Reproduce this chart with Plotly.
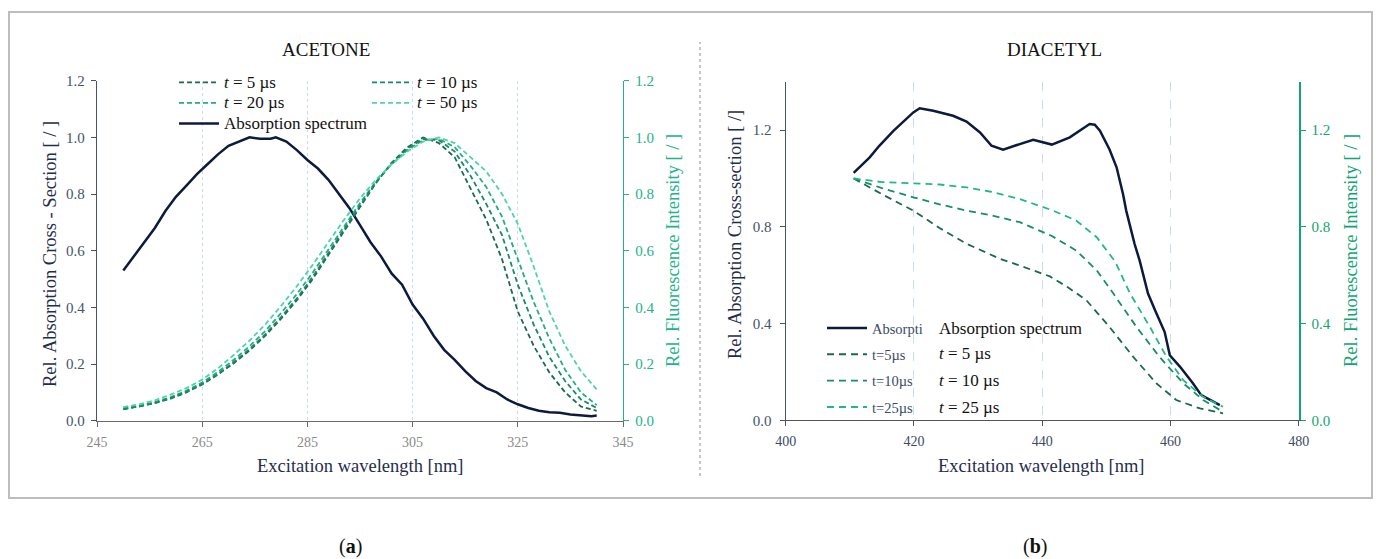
import plotly.graph_objects as go

# ---------------- DATA ----------------
# Panel (a) ACETONE
acetone_abs_nm = [250, 252, 254, 256, 258, 260, 262, 264, 266, 268, 270, 272, 274, 276, 278, 279,
                  281, 283, 285, 287, 289, 291, 293, 295, 297, 299, 301, 303, 305, 307, 309, 311,
                  313, 315, 317, 319, 321, 323, 325, 327, 329, 331, 333, 335, 337, 339, 340]
acetone_abs = [0.53, 0.58, 0.63, 0.68, 0.74, 0.79, 0.83, 0.87, 0.905, 0.94, 0.97, 0.985, 1.0, 0.995,
               0.995, 1.0, 0.985, 0.955, 0.92, 0.89, 0.85, 0.80, 0.75, 0.69, 0.63, 0.58, 0.52, 0.48,
               0.41, 0.36, 0.30, 0.25, 0.215, 0.175, 0.14, 0.115, 0.10, 0.075, 0.058, 0.045, 0.035,
               0.03, 0.028, 0.022, 0.018, 0.016, 0.018]

acetone_fl_nm = [250, 253, 256, 259, 262, 265, 268, 271, 274, 277, 280, 283, 286, 289, 292, 295,
                 298, 301, 304, 307, 310, 313, 316, 319, 322, 325, 328, 331, 334, 337, 340]
acetone_t5 = [0.040, 0.050, 0.062, 0.078, 0.100, 0.128, 0.163, 0.203, 0.248, 0.300, 0.360, 0.425,
              0.500, 0.585, 0.670, 0.755, 0.838, 0.910, 0.965, 1.000, 0.980, 0.930, 0.820, 0.710,
              0.570, 0.385, 0.265, 0.170, 0.100, 0.050, 0.035]
acetone_t10 = [0.042, 0.050, 0.063, 0.080, 0.102, 0.130, 0.165, 0.207, 0.253, 0.305, 0.366, 0.432,
               0.508, 0.592, 0.677, 0.760, 0.840, 0.908, 0.960, 0.995, 0.990, 0.950, 0.865, 0.765,
               0.655, 0.480, 0.340, 0.225, 0.140, 0.075, 0.045]
acetone_t20 = [0.045, 0.052, 0.066, 0.083, 0.106, 0.135, 0.172, 0.215, 0.263, 0.317, 0.380, 0.447,
               0.522, 0.605, 0.688, 0.768, 0.843, 0.905, 0.955, 0.990, 0.995, 0.965, 0.900, 0.825,
               0.720, 0.570, 0.420, 0.290, 0.180, 0.100, 0.055]
acetone_t50 = [0.048, 0.058, 0.072, 0.092, 0.115, 0.145, 0.185, 0.232, 0.283, 0.340, 0.405, 0.475,
               0.550, 0.630, 0.710, 0.785, 0.850, 0.905, 0.950, 0.985, 1.000, 0.980, 0.930, 0.880,
               0.800, 0.695, 0.545, 0.385, 0.265, 0.175, 0.110]

# Panel (b) DIACETYL
diacetyl_abs_nm = [410.6, 413.1, 414.6, 416.8, 419.9, 420.9, 423.0, 426.1, 428.2, 430.3, 432.1,
                   433.9, 436.5, 438.6, 441.5, 444.3, 447.4, 448.2, 449.0, 450.5, 451.6, 452.6,
                   453.1, 454.4, 455.2, 456.5, 457.6, 459.1, 459.9, 461.5, 463.5, 464.8, 467.7]
diacetyl_abs = [1.023, 1.087, 1.135, 1.197, 1.273, 1.29, 1.28, 1.259, 1.235, 1.19, 1.135, 1.119,
                1.142, 1.16, 1.14, 1.17, 1.225, 1.222, 1.197, 1.12, 1.046, 0.936, 0.867, 0.73,
                0.66, 0.524, 0.455, 0.365, 0.269, 0.221, 0.153, 0.104, 0.063]

diacetyl_t5_nm = [410.6, 415.0, 419.9, 424.0, 428.2, 433.4, 437.0, 441.2, 444.0, 446.9, 450.5,
                  454.2, 457.8, 460.9, 464.6, 468.2]
diacetyl_t5 = [1.0, 0.935, 0.867, 0.795, 0.73, 0.668, 0.635, 0.595, 0.55, 0.496, 0.386, 0.262,
               0.153, 0.084, 0.049, 0.029]
diacetyl_t10_nm = [410.6, 415.0, 419.9, 424.0, 428.2, 432.0, 436.5, 441.5, 445.3, 448.5, 451.1,
                   454.7, 458.3, 462.0, 465.1, 468.2]
diacetyl_t10 = [1.0, 0.96, 0.922, 0.893, 0.867, 0.848, 0.819, 0.762, 0.702, 0.62, 0.524, 0.386,
                0.262, 0.153, 0.084, 0.035]
diacetyl_t25_nm = [410.6, 415.0, 419.9, 424.0, 428.2, 432.0, 436.5, 441.7, 445.3, 448.5, 451.4,
                   453.7, 456.8, 459.4, 462.0, 465.1, 468.2]
diacetyl_t25 = [1.0, 0.985, 0.98, 0.975, 0.963, 0.945, 0.915, 0.867, 0.826, 0.757, 0.655, 0.524,
                0.386, 0.262, 0.166, 0.097, 0.056]

acetone_ticks = [245, 265, 285, 305, 325, 345]
diacetyl_ticks = [400, 420, 440, 460, 480]

# ---------------- STYLE ----------------
# The page body has an 8px margin, so the figure is drawn 8px smaller and
# every layout position is given in window pixels minus that offset.
OFF = 8
W, H = 1381 - OFF, 559 - OFF
FONT = "Liberation Serif, Times New Roman, serif"
NAVY = "#0c1a3d"
SLATE = "#44546a"
GA = "#22b38a"
GB = "#10a573"
C5, C10, C20, C50 = "#1b6a4c", "#168c63", "#22ad84", "#4fd3ad"
CB5, CB10, CB25 = "#1b6a4c", "#178f66", "#22b886"
GRID = "#c9dcf3"


def px(x):
    return (x - OFF) / W


def py(y):
    return 1 - (y - OFF) / H


def big(s):
    return '<span style="font-size:17px">' + s + '</span>'


fig = go.Figure()

# panel a
fig.add_trace(go.Scatter(x=acetone_fl_nm, y=acetone_t5, xaxis="x", yaxis="y2", mode="lines",
                         line=dict(color=C5, width=1.8, dash="5px,3px"),
                         name=big("<i>t</i> = 5 µs"), legend="legend", legendgroup="a1"))
fig.add_trace(go.Scatter(x=acetone_fl_nm, y=acetone_t20, xaxis="x", yaxis="y2", mode="lines",
                         line=dict(color=C20, width=1.8, dash="5px,3px"),
                         name=big("<i>t</i> = 20 µs"), legend="legend", legendgroup="a3"))
fig.add_trace(go.Scatter(x=acetone_fl_nm, y=acetone_t10, xaxis="x", yaxis="y2", mode="lines",
                         line=dict(color=C10, width=1.8, dash="5px,3px"),
                         name=big("<i>t</i> = 10 µs"), legend="legend3", legendgroup="a2"))
fig.add_trace(go.Scatter(x=acetone_fl_nm, y=acetone_t50, xaxis="x", yaxis="y2", mode="lines",
                         line=dict(color=C50, width=1.8, dash="5px,3px"),
                         name=big("<i>t</i> = 50 µs"), legend="legend3", legendgroup="a4"))
fig.add_trace(go.Scatter(x=acetone_abs_nm, y=acetone_abs, xaxis="x", yaxis="y", mode="lines",
                         line=dict(color=NAVY, width=2.5),
                         name=big("Absorption spectrum"), legend="legend", legendgroup="a5"))

# panel b
fig.add_trace(go.Scatter(x=diacetyl_abs_nm, y=diacetyl_abs, xaxis="x2", yaxis="y3", mode="lines",
                         line=dict(color=NAVY, width=2.5), name="Absorpti",
                         legend="legend2", legendgroup="b1"))
fig.add_trace(go.Scatter(x=diacetyl_t5_nm, y=diacetyl_t5, xaxis="x2", yaxis="y4", mode="lines",
                         line=dict(color=CB5, width=1.8, dash="7px,5px"), name="t=5µs",
                         legend="legend2", legendgroup="b2"))
fig.add_trace(go.Scatter(x=diacetyl_t10_nm, y=diacetyl_t10, xaxis="x2", yaxis="y4", mode="lines",
                         line=dict(color=CB10, width=1.8, dash="7px,5px"), name="t=10µs",
                         legend="legend2", legendgroup="b3"))
fig.add_trace(go.Scatter(x=diacetyl_t25_nm, y=diacetyl_t25, xaxis="x2", yaxis="y4", mode="lines",
                         line=dict(color=CB25, width=1.8, dash="7px,5px"), name="t=25µs",
                         legend="legend2", legendgroup="b4"))

tickfont_slate = dict(family=FONT, size=15, color=SLATE)

fig.update_layout(
    width=W, height=H, autosize=False,
    margin=dict(l=0, r=0, t=0, b=0, pad=0, autoexpand=False),
    paper_bgcolor="white", plot_bgcolor="white",
    font=dict(family=FONT, color="#222"),
    xaxis=dict(domain=[px(97), px(623)], anchor="y", range=[245, 345], tickvals=acetone_ticks,
               showline=True, linecolor="#6b6b6b", linewidth=1.3, ticks="outside", ticklen=5,
               tickcolor="#6b6b6b", tickfont=dict(family=FONT, size=14, color="#8a8a8a"),
               ticklabelstandoff=3,
               showgrid=True, gridcolor=GRID, griddash="dot", gridwidth=1, zeroline=False,
               automargin=False),
    yaxis=dict(domain=[py(420.7), py(80.7)], anchor="x", range=[0, 1.2], dtick=0.2,
               tickformat=".1f", showline=True, linecolor=SLATE, linewidth=1.3, ticks="outside",
               ticklen=5, tickcolor=SLATE, tickfont=tickfont_slate, ticklabelstandoff=3,
               showgrid=False, zeroline=False, automargin=False),
    yaxis2=dict(overlaying="y", anchor="x", side="right", range=[0, 1.2], dtick=0.2,
                tickformat=".1f", showline=True, linecolor=GA, linewidth=1.3, ticks="outside",
                ticklen=5, tickcolor=GA, tickfont=dict(family=FONT, size=15, color=GA),
                ticklabelstandoff=3, showgrid=False, zeroline=False, automargin=False),
    xaxis2=dict(domain=[px(785.7), px(1298.7)], anchor="y3", range=[400, 480],
                tickvals=diacetyl_ticks, showline=True, linecolor="#555", linewidth=1.3,
                ticks="outside", ticklen=5, tickcolor="#555",
                tickfont=dict(family=FONT, size=14, color="#3b4a66"), ticklabelstandoff=3,
                showgrid=True, gridcolor=GRID, griddash="dash", gridwidth=1.3, zeroline=False,
                automargin=False),
    yaxis3=dict(domain=[py(420.3), py(81.7)], anchor="x2", range=[0, 1.4],
                tickvals=[0, 0.4, 0.8, 1.2], tickformat=".1f", showline=True, linecolor=SLATE,
                linewidth=1.3, ticks="outside", ticklen=5, tickcolor=SLATE,
                tickfont=tickfont_slate, ticklabelstandoff=5, showgrid=False, zeroline=False,
                automargin=False),
    yaxis4=dict(overlaying="y3", anchor="x2", side="right", range=[0, 1.4],
                tickvals=[0, 0.4, 0.8, 1.2], tickformat=".1f", showline=True, linecolor=GB,
                linewidth=1.8, ticks="outside", ticklen=5, tickcolor=GB,
                tickfont=dict(family=FONT, size=15, color=GB), ticklabelstandoff=3,
                showgrid=False, zeroline=False, automargin=False),
    legend=dict(x=px(174), y=py(67), xanchor="left", yanchor="top", bgcolor="rgba(0,0,0,0)",
                font=dict(family=FONT, size=13.5, color="#111"), traceorder="normal",
                tracegroupgap=0, itemwidth=40),
    legend3=dict(x=px(367), y=py(67), xanchor="left", yanchor="top", bgcolor="rgba(0,0,0,0)",
                 font=dict(family=FONT, size=13.5, color="#111"), traceorder="normal",
                 tracegroupgap=0, itemwidth=40),
    legend2=dict(x=px(822), y=py(312), xanchor="left", yanchor="top", bgcolor="rgba(0,0,0,0)",
                 font=dict(family=FONT, size=14.5, color="#3b4a66"), traceorder="grouped",
                 tracegroupgap=4.5, itemwidth=40),
    showlegend=True,
)

annotations = [
    dict(text="ACETONE", x=px(326), y=py(49), font=dict(size=19, color="#111")),
    dict(text="DIACETYL", x=px(1054.5), y=py(49), font=dict(size=19, color="#111")),
    dict(text="Excitation wavelength [nm]", x=px(360), y=py(466), font=dict(size=18.5, color="#1f2d4d")),
    dict(text="Excitation wavelength [nm]", x=px(1041), y=py(466), font=dict(size=18.5, color="#1f2d4d")),
    dict(text="Rel. Absorption Cross - Section [ / ]", x=px(50), y=py(254), textangle=-90,
         font=dict(size=18.5, color="#1f2d4d")),
    dict(text="Rel. Fluorescence Intensity [ / ]", x=px(673), y=py(251), textangle=-90,
         font=dict(size=18.5, color=GA)),
    dict(text="Rel. Absorption Cross-section [ /]", x=px(735), y=py(235), textangle=-90,
         font=dict(size=18.5, color="#1f2d4d")),
    dict(text="Rel. Fluorescence Intensity [ / ]", x=px(1351), y=py(251), textangle=-90,
         font=dict(size=18.5, color=GB)),
    dict(text="(<b>a</b>)", x=px(350), y=py(546), font=dict(size=20, color="#111")),
    dict(text="(<b>b</b>)", x=px(1035), y=py(546), font=dict(size=20, color="#111")),
]
legend_b_labels = ["Absorption spectrum", "<i>t</i> = 5 µs", "<i>t</i> = 10 µs", "<i>t</i> = 25 µs"]
legend_b_rows = [328, 354, 380, 407]
for lab, row in zip(legend_b_labels, legend_b_rows):
    annotations.append(dict(text=lab, x=px(937), y=py(row), xanchor="left",
                            font=dict(size=17, color="#111")))
for a in annotations:
    a.setdefault("xref", "paper")
    a.setdefault("yref", "paper")
    a.setdefault("showarrow", False)
    a.setdefault("xanchor", "center")
    a.setdefault("yanchor", "middle")
    a["font"]["family"] = FONT
fig.update_layout(annotations=annotations)

fig.update_layout(shapes=[
    dict(type="rect", xref="paper", yref="paper", x0=px(9), x1=px(1372), y0=py(498), y1=py(12),
         line=dict(color="#bdbdbd", width=2), fillcolor="rgba(0,0,0,0)", layer="below"),
    dict(type="line", xref="paper", yref="paper", x0=px(700), x1=px(700), y0=py(476), y1=py(42),
         line=dict(color="#8c8c8c", width=1, dash="dot")),
])

fig.write_html("out.html")
